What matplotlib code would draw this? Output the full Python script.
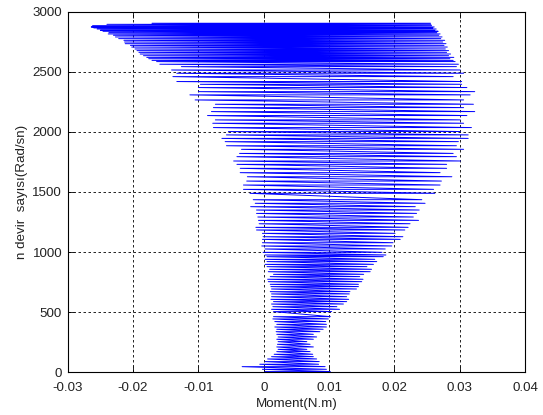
import matplotlib
matplotlib.use("Agg")

import matplotlib.pyplot as plt
import numpy as np


# hiz seviyeleri (Rad/sn) ve her salinimin sol / sag moment uclari (N.m)
speed_rows = [
    6, 25, 47, 67, 89, 111, 130, 150, 172, 191, 211, 233, 255, 275, 294,
    316, 338, 358, 377, 399, 422, 444, 463,
    505, 524, 546, 568, 588, 607, 629, 652, 671, 693, 713, 732, 754, 774,
    796, 815, 837, 857, 879, 898, 921, 940, 962, 976,
    998, 1026, 1051, 1078, 1106, 1128, 1156, 1184, 1206, 1236, 1264, 1292,
    1322, 1350, 1378, 1406, 1436,
    1489, 1522, 1558, 1591, 1627, 1661, 1697, 1730, 1758, 1794, 1821, 1855,
    1885, 1919, 1946,
    1975, 2003, 2036, 2072, 2100, 2136, 2169, 2202, 2230, 2266, 2308, 2335,
    2369, 2396, 2419, 2460,
    2488, 2515, 2543, 2563, 2585,
    2595, 2609, 2620, 2634, 2648, 2662, 2676, 2690, 2706, 2720, 2734, 2748,
    2762, 2776, 2790, 2804, 2815, 2826, 2837, 2845, 2856, 2865, 2873, 2884,
    2895, 2904,
]
left_torque = [
    0.0002, -0.0002, -0.0033, -0.0006, 0.0002, 0.0006, 0.0012, 0.0016, 0.0020,
    0.0022, 0.0020, 0.0021, 0.0022, 0.0020, 0.0022, 0.0020, 0.0019, 0.0020,
    0.0017, 0.0020, 0.0017, 0.0014, 0.0015,
    0.0015, 0.0012, 0.0014, 0.0012, 0.0015, 0.0011, 0.0012, 0.0012, 0.0010,
    0.0012, 0.0011, 0.0010, 0.0007, 0.0006, 0.0010, 0.0015, 0.0007, 0.0009,
    0.0005, 0.0002, 0.0005, 0.0002, 0.0005, 0.0002,
    -0.0001, 0.0002, -0.0003, -0.0002, -0.0002, -0.0001, -0.0002, -0.0011,
    -0.0012, -0.0007, -0.0008, -0.0009, -0.0011, -0.0011, -0.0020, -0.0013,
    -0.0016,
    -0.0021, -0.0031, -0.0031, -0.0026, -0.0025, -0.0036, -0.0036, -0.0041,
    -0.0046, -0.0041, -0.0037, -0.0034, -0.0057, -0.0059, -0.0064,
    -0.0057, -0.0054, -0.0077, -0.0078, -0.0074, -0.0086, -0.0080, -0.0077,
    -0.0074, -0.0105, -0.0113, -0.0100, -0.0100, -0.0097, -0.0133, -0.0139,
    -0.0133, -0.0141, -0.0126, -0.0159, -0.0164,
    -0.0171, -0.0176, -0.0179, -0.0184, -0.0189, -0.0191, -0.0194, -0.0197,
    -0.0202, -0.0204, -0.0212, -0.0213, -0.0214, -0.0222, -0.0227, -0.0230,
    -0.0238, -0.0237, -0.0246, -0.0250, -0.0255, -0.0260, -0.0264, -0.0262,
    -0.0240, -0.0171,
]
right_torque = [
    0.0102, 0.0096, 0.0094, 0.0084, 0.0085, 0.0081, 0.0076, 0.0075, 0.0071,
    0.0066, 0.0076, 0.0071, 0.0066, 0.0076, 0.0081, 0.0076, 0.0086, 0.0091,
    0.0096, 0.0096, 0.0095, 0.0099, 0.0102,
    0.0104, 0.0116, 0.0112, 0.0122, 0.0127, 0.0130, 0.0127, 0.0131, 0.0132,
    0.0142, 0.0145, 0.0145, 0.0150, 0.0152, 0.0147, 0.0153, 0.0163, 0.0165,
    0.0158, 0.0168, 0.0173, 0.0170, 0.0183, 0.0187,
    0.0181, 0.0186, 0.0196, 0.0198, 0.0209, 0.0213, 0.0201, 0.0216, 0.0221,
    0.0224, 0.0237, 0.0229, 0.0234, 0.0238, 0.0232, 0.0247, 0.0242,
    0.0262, 0.0260, 0.0270, 0.0272, 0.0288, 0.0270, 0.0280, 0.0280, 0.0301,
    0.0295, 0.0290, 0.0306, 0.0295, 0.0298, 0.0313,
    0.0313, 0.0301, 0.0318, 0.0306, 0.0301, 0.0311, 0.0323, 0.0306, 0.0321,
    0.0306, 0.0316, 0.0323, 0.0311, 0.0303, 0.0303, 0.0290,
    0.0306, 0.0301, 0.0295, 0.0298, 0.0293,
    0.0290, 0.0285, 0.0291, 0.0283, 0.0286, 0.0280, 0.0283, 0.0278, 0.0281,
    0.0276, 0.0279, 0.0274, 0.0277, 0.0271, 0.0273, 0.0268, 0.0270, 0.0265,
    0.0267, 0.0262, 0.0264, 0.0259, 0.0261, 0.0257, 0.0256, 0.0255,
]

x_ticks = [-0.03, -0.02, -0.01, 0, 0.01, 0.02, 0.03, 0.04]
x_tick_labels = ["-0.03", "-0.02", "-0.01", "0", "0.01", "0.02", "0.03", "0.04"]
y_ticks = [0, 500, 1000, 1500, 2000, 2500, 3000]


def zigzag(speeds, left, right):
    # sol -> sag -> sol ... donus noktalarini sirala
    xs = np.column_stack([left, right]).ravel()
    ys = np.column_stack([speeds, speeds]).ravel()
    return xs, ys


plt.rcParams["font.family"] = ["Liberation Sans", "DejaVu Sans"]

fig = plt.figure(figsize=(5.43, 4.15), dpi=100)
ax = fig.add_axes([0.1247, 0.1029, 0.8422, 0.8689])

xs, ys = zigzag(speed_rows, left_torque, right_torque)
ax.plot(xs, ys, color="#0000ff", linewidth=0.7)

ax.set_xlim(-0.03, 0.04)
ax.set_ylim(0, 3000)
ax.set_xticks(x_ticks)
ax.set_xticklabels(x_tick_labels)
ax.set_yticks(y_ticks)

ax.set_axisbelow(True)
ax.grid(True, color="black", linestyle=(0, (3, 3)), linewidth=0.6)
ax.tick_params(direction="in", length=4, width=0.6, top=True, right=True,
               labelsize=9.6, colors="black", labelcolor="#222222")
ax.tick_params(axis="x", pad=7)
ax.tick_params(axis="y", pad=4)
for spine in ax.spines.values():
    spine.set_linewidth(0.8)

ax.set_xlabel("Moment(N.m)", fontsize=9.6, color="#222222", labelpad=3)
ax.set_ylabel("n devir  sayısı(Rad/sn)", fontsize=9.6, color="#222222",
              labelpad=3)

fig.savefig("out.png", dpi=100)
